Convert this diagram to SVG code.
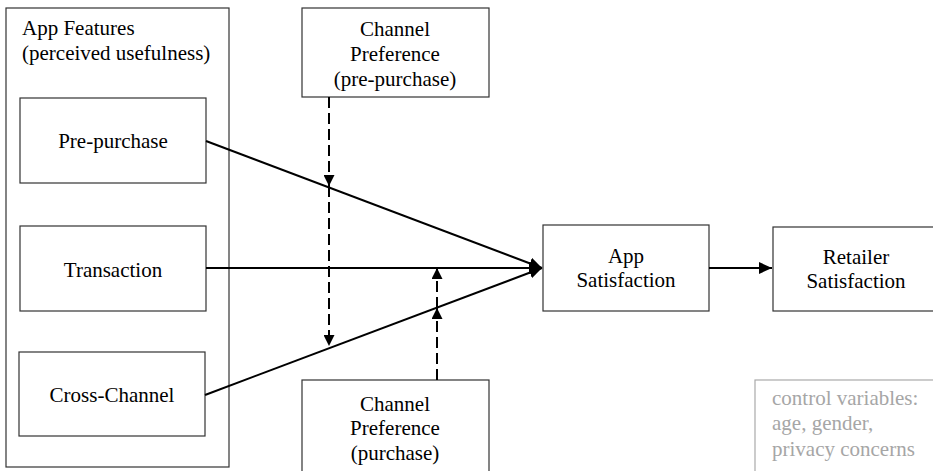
<svg xmlns="http://www.w3.org/2000/svg" width="933" height="471" viewBox="0 0 933 471">
<style>
.box{fill:#fff;stroke:#333;stroke-width:1.2}
.gbox{fill:#fff;stroke:#aaa;stroke-width:1.2}
.t{font-family:"Liberation Serif","Times New Roman",serif;font-size:21px;fill:#000}
.c{text-anchor:middle}
.g{fill:#a6a6a6}
.ln{stroke:#000;stroke-width:2;fill:none}
.ds{stroke:#000;stroke-width:2;fill:none;stroke-dasharray:11 5}
</style>
<defs>
<marker id="ah" markerUnits="userSpaceOnUse" markerWidth="13" markerHeight="12" refX="13" refY="6" orient="auto">
<path d="M0,0 L13,6 L0,12 z" fill="#000"/>
</marker>
<marker id="ahs" markerUnits="userSpaceOnUse" markerWidth="11" markerHeight="11" refX="11" refY="5.5" orient="auto">
<path d="M0,0 L11,5.5 L0,11 z" fill="#000"/>
</marker>
</defs>
<rect width="933" height="471" fill="#fff"/>
<g id="app-features">
<rect class="box" x="6" y="8" width="223" height="459"/>
<text class="t" x="22" y="35">App Features</text>
<text class="t" x="22" y="60">(perceived usefulness)</text>
</g>
<g id="pre-purchase">
<rect class="box" x="20" y="98" width="186" height="85"/>
<text class="t c" x="113" y="148">Pre-purchase</text>
</g>
<g id="transaction">
<rect class="box" x="20" y="226" width="186" height="85"/>
<text class="t c" x="113" y="277">Transaction</text>
</g>
<g id="cross-channel">
<rect class="box" x="19" y="352" width="186" height="84"/>
<text class="t c" x="112" y="402">Cross-Channel</text>
</g>
<g id="channel-pref-pre">
<rect class="box" x="302" y="8" width="187" height="89"/>
<text class="t c" x="395" y="36">Channel</text>
<text class="t c" x="395" y="61">Preference</text>
<text class="t c" x="395" y="86">(pre-purchase)</text>
</g>
<g id="channel-pref-purchase">
<rect class="box" x="302" y="380" width="187" height="100"/>
<text class="t c" x="395" y="411">Channel</text>
<text class="t c" x="395" y="435">Preference</text>
<text class="t c" x="395" y="460">(purchase)</text>
</g>
<g id="app-satisfaction">
<rect class="box" x="543" y="225" width="166" height="86"/>
<text class="t c" x="626" y="263">App</text>
<text class="t c" x="626" y="287">Satisfaction</text>
</g>
<g id="retailer-satisfaction">
<rect class="box" x="773" y="227" width="167" height="84"/>
<text class="t c" x="856" y="264">Retailer</text>
<text class="t c" x="856" y="288">Satisfaction</text>
</g>
<g id="control-variables">
<rect class="gbox" x="755" y="380" width="190" height="100"/>
<text class="t g" x="772" y="405">control variables:</text>
<text class="t g" x="772" y="430">age, gender,</text>
<text class="t g" x="772" y="456">privacy concerns</text>
</g>
<g id="connectors">
<line class="ln" x1="206" y1="141" x2="542" y2="268" marker-end="url(#ah)"/>
<line class="ln" x1="206" y1="268" x2="542" y2="268" marker-end="url(#ah)"/>
<line class="ln" x1="205" y1="395" x2="542" y2="268" marker-end="url(#ah)"/>
<line class="ln" x1="709" y1="268" x2="772" y2="268" marker-end="url(#ah)"/>
<line class="ds" x1="329" y1="97" x2="329" y2="186" marker-end="url(#ahs)"/>
<line class="ds" x1="329" y1="186" x2="329" y2="346" marker-end="url(#ahs)"/>
<line class="ds" x1="437" y1="380" x2="437" y2="308" marker-end="url(#ahs)"/>
<line class="ds" x1="437" y1="308" x2="437" y2="268" marker-end="url(#ahs)"/>
</g>
</svg>
